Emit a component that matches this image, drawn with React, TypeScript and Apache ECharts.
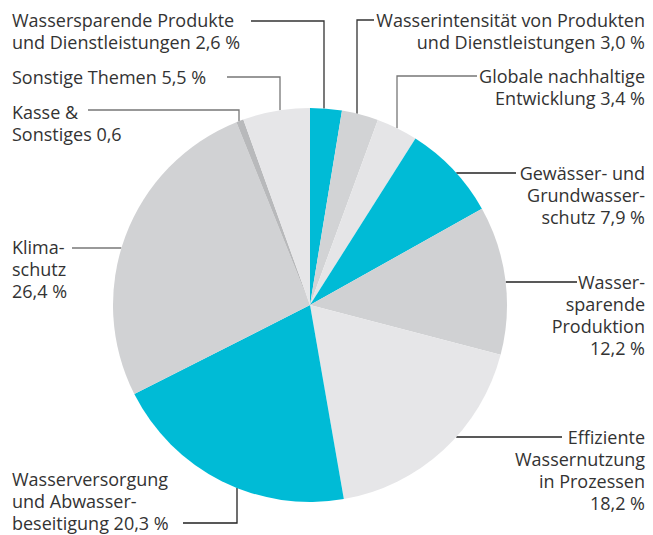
import React, { useEffect, useRef } from "react";
import * as echarts from "echarts";

const categories = [
  "Wassersparende Produkte und Dienstleistungen",
  "Wasserintensität von Produkten und Dienstleistungen",
  "Globale nachhaltige Entwicklung",
  "Gewässer- und Grundwasserschutz",
  "Wassersparende Produktion",
  "Effiziente Wassernutzung in Prozessen",
  "Wasserversorgung und Abwasserbeseitigung",
  "Klimaschutz",
  "Kasse & Sonstiges",
  "Sonstige Themen",
];
const values = [2.6, 3.0, 3.4, 7.9, 12.2, 18.2, 20.3, 26.4, 0.6, 5.5];
const labelTexts = [
  "Wassersparende Produkte\nund Dienstleistungen 2,6 %",
  "Wasserintensität von Produkten\nund Dienstleistungen 3,0 %",
  "Globale nachhaltige\nEntwicklung 3,4 %",
  "Gewässer- und\nGrundwasser-\nschutz 7,9 %",
  "Wasser-\nsparende\nProduktion\n12,2 %",
  "Effiziente\nWassernutzung\nin Prozessen\n18,2 %",
  "Wasserversorgung\nund Abwasser-\nbeseitigung 20,3 %",
  "Klima-\nschutz\n26,4 %",
  "Kasse &\nSonstiges 0,6",
  "Sonstige Themen 5,5 %",
];

const sliceColors = [
  "#00bbd6", "#d2d3d5", "#e5e5e7", "#00bbd6", "#d0d1d3",
  "#e6e6e8", "#00bbd6", "#d1d2d4", "#b8b9bb", "#e6e6e8",
];
const lineColors = [
  "#333333", "#333333", "#777777", "#222222", "#222222",
  "#222222", "#222222", "#777777", "#777777", "#777777",
];

const CX = 310;
const CY = 305;
const R = 197;

type Lay = { tx: number; ty: number; align: "left" | "right"; pts: number[][]; end: "v" | "h" };
const layout: Lay[] = [
  { tx: 12, ty: 9, align: "left", pts: [[251, 21], [324, 21]], end: "v" },
  { tx: 645, ty: 9, align: "right", pts: [[374, 20], [357, 20]], end: "v" },
  { tx: 645, ty: 65, align: "right", pts: [[477, 76], [397, 76]], end: "v" },
  { tx: 645, ty: 162, align: "right", pts: [[516, 173]], end: "h" },
  { tx: 645, ty: 271, align: "right", pts: [[577, 282]], end: "h" },
  { tx: 645, ty: 426, align: "right", pts: [[562, 437]], end: "h" },
  { tx: 12, ty: 468, align: "left", pts: [[183, 523], [237, 523]], end: "v" },
  { tx: 12, ty: 236, align: "left", pts: [[72, 248]], end: "h" },
  { tx: 12, ty: 101, align: "left", pts: [[88, 110], [239, 110]], end: "v" },
  { tx: 12, ty: 66, align: "left", pts: [[227, 77], [280, 77]], end: "v" },
];

function linePoints(l: Lay): number[][] {
  const last = l.pts[l.pts.length - 1];
  let edge: number[];
  if (l.end === "v") {
    const dx = last[0] - CX;
    const dy = Math.sqrt(Math.max(0, R * R - dx * dx));
    edge = [last[0], last[1] < CY ? CY - dy : CY + dy];
  } else {
    const dy = last[1] - CY;
    const dx = Math.sqrt(Math.max(0, R * R - dy * dy));
    edge = [last[0] < CX ? CX - dx : CX + dx, last[1]];
  }
  return [edge, ...l.pts.slice().reverse()];
}

export default function App() {
  const ref = useRef<HTMLDivElement>(null);
  useEffect(() => {
    if (!ref.current) return;
    const chart = echarts.init(ref.current, null, { renderer: "svg" });
    chart.setOption({
      animation: false,
      backgroundColor: "#ffffff",
      series: [
        {
          type: "pie",
          center: [CX, CY],
          radius: R,
          startAngle: 90,
          clockwise: true,
          avoidLabelOverlap: false,
          silent: true,
          itemStyle: { borderWidth: 0 },
          emphasis: { disabled: true },
          label: {
            show: true,
            position: "outside",
            color: "#333333",
            fontFamily: "Open Sans",
            fontSize: 18,
            lineHeight: 22,
            formatter: (p: any) => labelTexts[p.dataIndex],
          },
          labelLine: { show: true, length: 10, length2: 10, lineStyle: { width: 1.3 } },
          labelLayout: (p: any) => {
            const l = layout[p.dataIndex];
            return {
              x: l.tx,
              y: l.ty,
              align: l.align,
              verticalAlign: "top",
              labelLinePoints: linePoints(l),
            };
          },
          data: categories.map((name, i) => ({
            name,
            value: values[i],
            itemStyle: { color: sliceColors[i] },
            labelLine: { lineStyle: { color: lineColors[i] } },
            label: { align: layout[i].align },
          })),
        },
      ],
    });
    return () => chart.dispose();
  }, []);
  return (
    <div
      ref={ref}
      style={{ position: "fixed", left: 0, top: 0, width: 653, height: 535 }}
    />
  );
}
